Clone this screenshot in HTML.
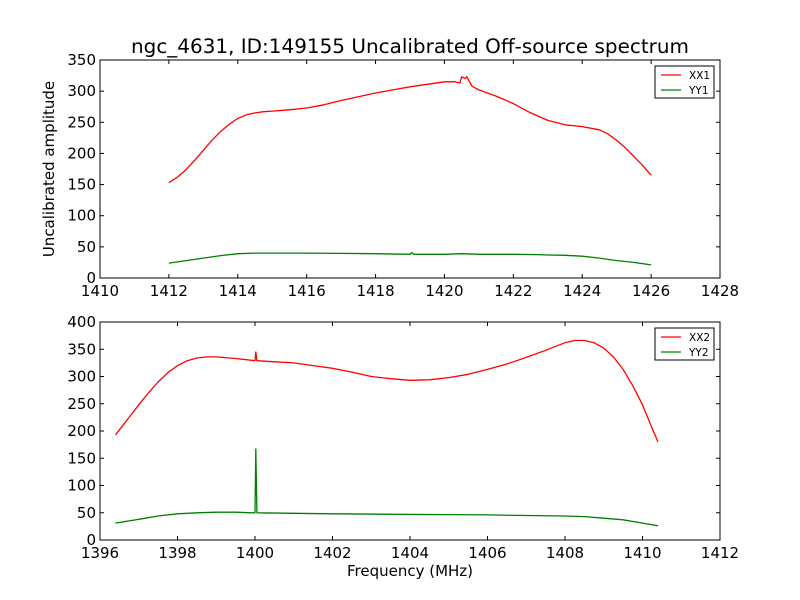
<!DOCTYPE html>
<html><head><meta charset="utf-8"><style>
body{margin:0;background:#fff;}
svg{display:block;font-family:"DejaVu Sans","Liberation Sans",sans-serif;}
</style></head><body>
<svg id="c" width="800" height="600" viewBox="0 0 800 600">
<rect width="800" height="600" fill="#fff"/>
<text x="410" y="53" font-size="19.5" text-anchor="middle" textLength="558" lengthAdjust="spacingAndGlyphs">ngc_4631, ID:149155 Uncalibrated Off-source spectrum</text>
<text x="54" y="169" font-size="15" text-anchor="middle" transform="rotate(-90 54 169)">Uncalibrated amplitude</text>
<text x="410" y="576" font-size="15" text-anchor="middle">Frequency (MHz)</text>
</svg>
<script>
const topXX1F=[1412,1412.25,1412.5,1412.75,1413,1413.25,1413.5,1413.75,1414,1414.25,1414.5,1414.75,1415,1415.5,1416,1416.5,1417,1417.5,1418,1418.5,1419,1419.5,1420,1420.3,1420.45,1420.5,1420.6,1420.65,1420.8,1421,1421.5,1422,1422.5,1423,1423.5,1424,1424.5,1424.75,1425,1425.25,1425.5,1425.75,1426];
const topXX1V=[153,162,174,189,205,221,235,247,256,262,265,267,268,270,273,278,285,291,297,302,307,311,315,315,313,323,320,323,308,302,292,280,265,253,246,243,238,231,221,209,195,181,165];
const topYY1F=[1412,1412.5,1413,1413.5,1414,1414.5,1415,1416,1417,1418,1419,1419.05,1419.1,1420,1420.5,1421,1422,1422.7,1423,1423.5,1424,1424.5,1425,1425.5,1426];
const topYY1V=[24,28,32,36,39,40,40,40,39.5,39,38,41,38,38,39,38,38,37.5,37,36.5,35,32,28,25,21];
const botXX2F=[1396.4,1396.75,1397,1397.25,1397.5,1397.75,1398,1398.25,1398.5,1398.75,1399,1399.5,1400,1400.02,1400.05,1400.5,1401,1401.5,1402,1402.5,1403,1403.5,1404,1404.5,1405,1405.5,1406,1406.5,1407,1407.5,1408,1408.25,1408.5,1408.75,1409,1409.25,1409.5,1409.75,1410,1410.2,1410.4];
const botXX2V=[193,225,248,270,290,307,320,329,334,336,336,333,329,345,329,327,325,320,315,308,300,296,293,294,298,304,313,323,335,348,362,366,366,362,352,336,313,283,248,213,180];
const botYY2F=[1396.4,1397,1397.5,1398,1398.5,1399,1399.5,1399.9,1400,1400.02,1400.05,1401,1402,1404,1406,1407,1408,1408.5,1409,1409.5,1410,1410.4];
const botYY2V=[31,38,44,48,50,51,51,50,50,167,50,49,48,47,46,45,44,43,40,37,31,26];
const topXTicks=[1410,1412,1414,1416,1418,1420,1422,1424,1426,1428];
const topYTicks=[0,50,100,150,200,250,300,350];
const botXTicks=[1396,1398,1400,1402,1404,1406,1408,1410,1412];
const botYTicks=[0,50,100,150,200,250,300,350,400];

const svg=document.getElementById('c');const NS='http://www.w3.org/2000/svg';
function mk(t,a,p){const e=document.createElementNS(NS,t);for(const k in a)e.setAttribute(k,a[k]);(p||svg).appendChild(e);return e;}
function panel(name,L,R,T,B,x0,x1,y0,y1,xt,yt,series){
  const g=mk('g',{});
  
  
  const sx=v=>L+(v-x0)/(x1-x0)*(R-L), sy=v=>B-(v-y0)/(y1-y0)*(B-T);
  series.forEach(s=>{
    const d=s.f.map((f,i)=>(i?'L':'M')+sx(f).toFixed(1)+','+sy(s.v[i]).toFixed(1)).join('');
    const p=mk('path',{d:d,fill:'none',stroke:s.c,'stroke-width':1.3,'stroke-linejoin':'round'},g);
    
    
  });
  const fr=mk('rect',{x:L,y:T,width:R-L,height:B-T,fill:'none',stroke:'#000','stroke-width':1},g);
  
  
  xt.forEach(v=>{const x=sx(v);
    mk('line',{x1:x,x2:x,y1:B,y2:B-4,stroke:'#000'},g);mk('line',{x1:x,x2:x,y1:T,y2:T+4,stroke:'#000'},g);
    const t=mk('text',{x:x,y:B+18,'font-size':15,'text-anchor':'middle'},g);t.textContent=v;
    
    });
  yt.forEach(v=>{const y=sy(v);
    mk('line',{x1:L,x2:L+4,y1:y,y2:y,stroke:'#000'},g);mk('line',{x1:R,x2:R-4,y1:y,y2:y,stroke:'#000'},g);
    const t=mk('text',{x:L-4,y:y+5,'font-size':15,'text-anchor':'end'},g);t.textContent=v;
    
    });
  const lg=mk('g',{},g);
  
  
  const lx=R-65,ly=T+6;
  mk('rect',{x:lx,y:ly,width:59,height:32,fill:'#fff',stroke:'#000','stroke-width':1},lg);
  series.forEach((s,i)=>{const y=ly+9+i*15;
    mk('line',{x1:lx+6,x2:lx+26,y1:y,y2:y,stroke:s.c,'stroke-width':1.3},lg);
    const t=mk('text',{x:lx+34,y:y+4,'font-size':10.5},lg);t.textContent=s.n;
    
    });
}
panel('top-panel',100,720,60,278,1410,1428,0,350,topXTicks,topYTicks,
 [{f:topXX1F,v:topXX1V,c:'#ff0000',n:'XX1'},{f:topYY1F,v:topYY1V,c:'#008000',n:'YY1'}]);
panel('bottom-panel',100,720,322,540,1396,1412,0,400,botXTicks,botYTicks,
 [{f:botXX2F,v:botXX2V,c:'#ff0000',n:'XX2'},{f:botYY2F,v:botYY2V,c:'#008000',n:'YY2'}]);
</script>
</body></html>
